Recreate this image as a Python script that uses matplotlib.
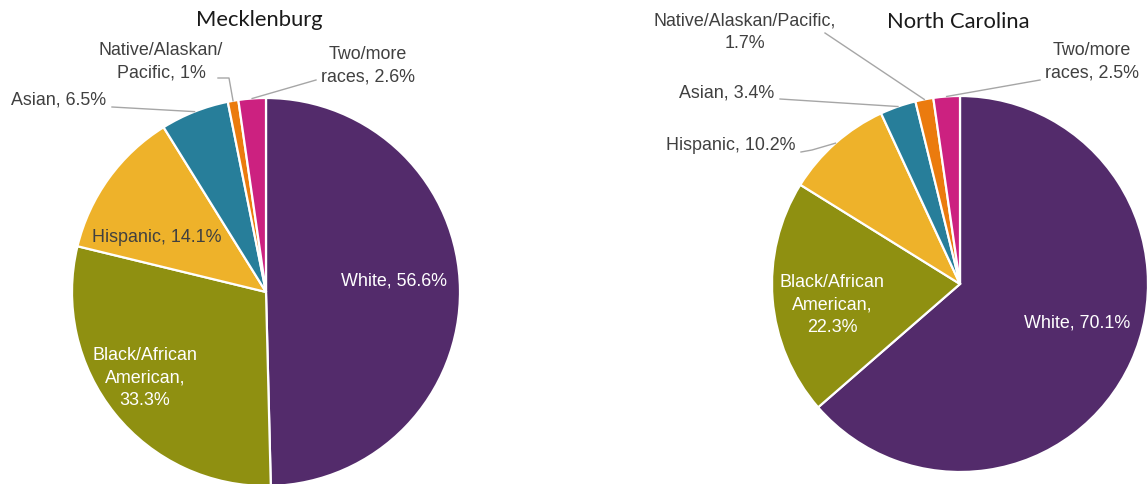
import matplotlib
matplotlib.use("Agg")
import matplotlib.pyplot as plt
from matplotlib.lines import Line2D
import numpy as np

# Data
categories = ["White", "Black/African American", "Hispanic", "Asian",
              "Native/Alaskan/Pacific", "Two/more races"]
meck_vals = [56.6, 33.3, 14.1, 6.5, 1.0, 2.6]
nc_vals = [70.1, 22.3, 10.2, 3.4, 1.7, 2.5]
meck_labels = ["White, 56.6%", "Black/African\nAmerican,\n33.3%", "Hispanic, 14.1%",
               "Asian, 6.5%", "Native/Alaskan/\nPacific, 1%", "Two/more\nraces, 2.6%"]
nc_labels = ["White, 70.1%", "Black/African\nAmerican,\n22.3%", "Hispanic, 10.2%",
             "Asian, 3.4%", "Native/Alaskan/Pacific,\n1.7%", "Two/more\nraces, 2.5%"]

colors = ["#532B6B", "#8F9011", "#EEB22A", "#277E9A", "#EB7B0E", "#CC2180"]

W, H = 1148, 484
fig = plt.figure(figsize=(W / 100, H / 100), dpi=100)
FONT = "Liberation Sans"
DARK = "#404040"
LEAD = "#a6a6a6"


def fx(x):
    return x / W


def fy(y):
    return 1 - y / H


def make_pie(cx, cy, r, vals):
    ax = fig.add_axes([fx(cx - r), fy(cy + r), 2 * r / W, 2 * r / H])
    wedges, _ = ax.pie(vals, colors=colors, startangle=90, counterclock=False,
                       wedgeprops=dict(edgecolor="white", linewidth=1.6))
    ax.set_xlim(-1, 1)
    ax.set_ylim(-1, 1)
    ax.set_aspect("equal")
    return ax, wedges


def wedge_point(ax, w, rad=1.0):
    ang = np.deg2rad((w.theta1 + w.theta2) / 2)
    px, py = ax.transData.transform((rad * np.cos(ang), rad * np.sin(ang)))
    return px / W, py / H


def label(x, y, s, color=DARK, ha="center"):
    fig.text(fx(x), fy(y), s, ha=ha, va="center", color=color, fontsize=12.9,
             family=FONT, linespacing=1.4, multialignment="center")


def leader(pts, ax, w):
    xs = [fx(p[0]) for p in pts]
    ys = [fy(p[1]) for p in pts]
    ex, ey = wedge_point(ax, w)
    xs.append(ex)
    ys.append(ey)
    fig.add_artist(Line2D(xs, ys, color=LEAD, lw=1.0, transform=fig.transFigure))


# Mecklenburg
ax1, w1 = make_pie(266, 292, 194, meck_vals)
fig.text(fx(259), fy(20), "Mecklenburg", ha="center", va="center",
         fontsize=15.8, family="Lato", color="#1a1a1a")
label(394, 281, meck_labels[0], color="white")
label(145, 378, meck_labels[1], color="white")
label(157, 237, meck_labels[2])
label(59, 100, meck_labels[3])
label(161, 62, meck_labels[4])
label(368, 66, meck_labels[5])
leader([(112, 107)], ax1, w1[3])
leader([(218, 78), (229, 78)], ax1, w1[4])
leader([(316, 80)], ax1, w1[5])

# North Carolina
ax2, w2 = make_pie(960, 284, 188, nc_vals)
fig.text(fx(958), fy(22), "North Carolina", ha="center", va="center",
         fontsize=15.8, family="Lato", color="#1a1a1a")
label(1077, 323, nc_labels[0], color="white")
label(832, 305, nc_labels[1], color="white")
label(731, 146, nc_labels[2])
label(727, 93, nc_labels[3])
label(745, 32, nc_labels[4])
label(1092, 62, nc_labels[5])
leader([(780, 99)], ax2, w2[3])
leader([(801, 152), (812, 150)], ax2, w2[2])
leader([(825, 33)], ax2, w2[4])
leader([(1040, 80)], ax2, w2[5])

fig.savefig("out.png", dpi=100)
